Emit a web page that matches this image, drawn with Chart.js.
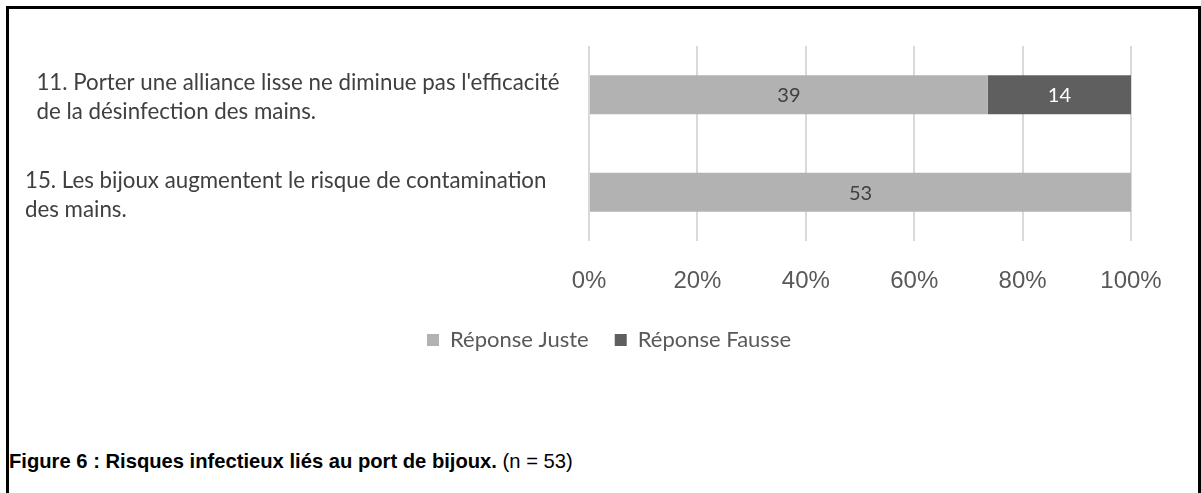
<!DOCTYPE html>
<html>
<head>
<meta charset="utf-8">
<script src="https://cdn.jsdelivr.net/npm/chart.js@4/dist/chart.umd.min.js"></script>
<style>
  html, body { margin: 0; padding: 0; background: #fff; overflow: hidden; }
  #cadre {
    position: absolute; left: 6px; top: 6px; width: 1189px; height: 600px;
    border: 3px solid #000; border-bottom: none;
  }
  #zone { position: absolute; left: 0; top: 0; width: 1201px; height: 361px; }
  #legende {
    position: absolute; left: 9px; top: 450px;
    font-family: "Liberation Sans", Arial, sans-serif; font-size: 20.2px; color: #000;
  }
</style>
</head>
<body>
<div id="cadre"></div>
<div id="zone"><canvas id="graficoBijoux"></canvas></div>
<div id="legende"><b>Figure 6 : Risques infectieux liés au port de bijoux.</b> (n = 53)</div>
<script>
// Données
const categories = [
  ["  11. Porter une alliance lisse ne diminue pas l'efficacité", "  de la désinfection des mains."],
  ["15. Les bijoux augmentent le risque de contamination", "des mains."]
];
const reponsesJustes = [39, 53];
const reponsesFausses = [14, 0];
const seriesNames = ['Réponse Juste', 'Réponse Fausse'];
const xTicks = [0, 20, 40, 60, 80, 100];

const totals = reponsesJustes.map((v, i) => v + reponsesFausses[i]);
const pct = arr => arr.map((v, i) => v / totals[i] * 100);

const police = 'Lato, "Open Sans", sans-serif';

// étiquettes de valeur au centre des barres (pas de plugin datalabels dispo)
const valeursPlugin = {
  id: 'valeurs',
  afterDatasetsDraw(chart) {
    const ctx = chart.ctx;
    ctx.save();
    ctx.font = '20px ' + police;
    ctx.textAlign = 'center';
    ctx.textBaseline = 'middle';
    chart.data.datasets.forEach((ds, i) => {
      const meta = chart.getDatasetMeta(i);
      meta.data.forEach((bar, j) => {
        const n = ds.counts[j];
        if (!n) return;
        const p = bar.getProps(['x', 'y', 'base'], true);
        ctx.fillStyle = ds.labelColor;
        ctx.fillText(String(n), (p.x + p.base) / 2, p.y + 1);
      });
    });
    ctx.restore();
  }
};

const ctx = document.getElementById('graficoBijoux').getContext('2d');

new Chart(ctx, {
  type: 'bar',
  data: {
    labels: categories,
    datasets: [
      {
        label: seriesNames[0],
        data: pct(reponsesJustes),
        counts: reponsesJustes,
        backgroundColor: '#b2b2b2',
        labelColor: '#404040',
        barPercentage: 0.4,
        categoryPercentage: 1
      },
      {
        label: seriesNames[1],
        data: pct(reponsesFausses),
        counts: reponsesFausses,
        backgroundColor: '#5f5f5f',
        labelColor: '#ffffff',
        barPercentage: 0.4,
        categoryPercentage: 1
      }
    ]
  },
  options: {
    indexAxis: 'y',
    responsive: true,
    maintainAspectRatio: false,
    animation: false,
    layout: {
      padding: { top: 46, left: 25, right: 8, bottom: 0 }
    },
    plugins: {
      legend: {
        position: 'bottom',
        labels: {
          color: '#595959',
          font: { family: police, size: 22 },
          boxWidth: 12,
          boxHeight: 12,
          padding: 26
        }
      },
      tooltip: { enabled: false }
    },
    scales: {
      x: {
        stacked: true,
        min: 0,
        max: 100,
        afterBuildTicks: s => { s.ticks = xTicks.map(v => ({ value: v })); },
        afterFit: s => { s.paddingRight = 70; s.height = 62; },
        border: { display: false },
        grid: { color: '#d9d9d9', lineWidth: 2, drawTicks: false },
        ticks: {
          color: '#595959',
          font: { family: '"Liberation Sans", Arial, sans-serif', size: 24, lineHeight: 1 },
          padding: 28,
          maxRotation: 0,
          callback: v => v + '%'
        }
      },
      y: {
        stacked: true,
        afterFit: s => { s.width = 564; },
        border: { display: false },
        grid: { display: false, drawTicks: false },
        ticks: {
          crossAlign: 'far',
          color: '#404040',
          padding: 0,
          labelOffset: 3,
          font: { family: police, size: 22.3, lineHeight: 1.3 }
        }
      }
    }
  },
  plugins: [valeursPlugin]
});
</script>
</body>
</html>
